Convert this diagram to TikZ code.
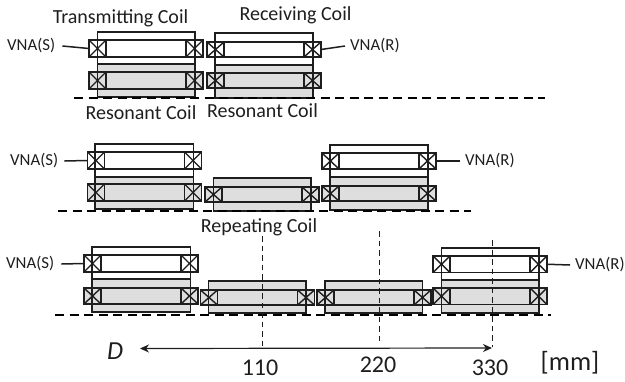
\documentclass[tikz,border=0pt]{standalone}
\usepackage{fontspec}
\setmainfont{Carlito}
\usetikzlibrary{arrows.meta}
\definecolor{ink}{HTML}{1E1E1E}
\definecolor{coilgray}{HTML}{DEDEDE}
\tikzset{
  outerbox/.style={draw=ink,line width=1.3pt},
  coilbody/.style={draw=ink,line width=1.5pt},
  crossbox/.style={draw=ink,line width=1.5pt,inner sep=0pt,outer sep=0pt,rectangle,
    path picture={\draw[ink,line width=1.4pt] (path picture bounding box.south west)--(path picture bounding box.north east)
      (path picture bounding box.north west)--(path picture bounding box.south east);}},
  lab/.style={inner sep=0pt,font=\fontsize{20}{22}\selectfont,text=ink},
  vna/.style={inner sep=0pt,font=\fontsize{16.8}{18}\selectfont,text=ink},
  num/.style={inner sep=0pt,font=\fontsize{24}{26}\selectfont,text=ink},
  lead/.style={draw=ink,line width=1.5pt},
  base/.style={draw=black,line width=1.6pt,dash pattern=on 9pt off 5.5pt},
  guide/.style={draw=ink,line width=1pt,dash pattern=on 5.5pt off 4pt},
}
% name, x left, x right, y top, y bottom, fill
\newcommand{\coilpair}[6]{%
  \draw[coilbody,fill=#6] (#2,#4) rectangle (#3,#5);
  \node[crossbox,fill=#6,minimum width=17pt,minimum height={(#5-#4)*1pt}] (#1l) at ({#2+8.5},{(#4+#5)/2}) {};
  \node[crossbox,fill=#6,minimum width=17pt,minimum height={(#5-#4)*1pt}] (#1r) at ({#3-8.5},{(#4+#5)/2}) {};
}
% x left, x right, y top, y bottom
\newcommand{\grayfill}[4]{\fill[coilgray] (#1,#3) rectangle (#2,#4);}
\newcommand{\plainbox}[4]{\draw[outerbox] (#1,#3) rectangle (#2,#4);}
\begin{document}
\begin{tikzpicture}[x=1pt,y=-1pt]
\useasboundingbox (0,0) rectangle (625,381);
% ---- row 1
\grayfill{97.5}{195}{64}{97}
\grayfill{215}{313}{65}{98}
\coilpair{a}{89}{203}{40}{57}{white}
\coilpair{b}{89}{203}{72}{89}{coilgray}
\coilpair{c}{207}{321}{42}{57}{white}
\coilpair{d}{207}{321}{73}{88}{coilgray}
\plainbox{97.5}{195}{32}{64}
\plainbox{97.5}{195}{64}{97}
\plainbox{215}{313}{33}{65}
\plainbox{215}{313}{65}{98}
\coordinate (b1a) at (74,98); \coordinate (b1b) at (545,98);
\draw[base] (b1a) -- (b1b);
\node[lab] at (120.5,18) {Transmitting Coil};
\node[lab] at (295.5,15.5) {Receiving Coil};
\node[lab] at (141,113) {Resonant Coil};
\node[lab] at (262.5,111) {Resonant Coil};
\node[vna,anchor=west] (s1) at (7,46) {VNA(S)};
\node[vna,anchor=west] (r1) at (350,46) {VNA(R)};
\draw[lead] ([xshift=7pt]s1.east) -- (al.west);
\draw[lead] (cr.east) -- ([xshift=-5pt]r1.west);
% ---- row 2
\grayfill{95}{193.5}{177}{209}
\grayfill{213.5}{311}{178}{211}
\grayfill{330}{428}{177}{210}
\coilpair{e}{87.5}{201.5}{152}{169}{white}
\coilpair{f}{87.5}{201.5}{184}{201}{coilgray}
\coilpair{g}{205}{319}{187}{202}{coilgray}
\coilpair{h}{322}{436}{153}{169}{white}
\coilpair{i}{322}{436}{186}{201}{coilgray}
\plainbox{95}{193.5}{144}{177}
\plainbox{95}{193.5}{177}{209}
\plainbox{213.5}{311}{178}{211}
\plainbox{330}{428}{145}{177}
\plainbox{330}{428}{177}{210}
\coordinate (b2a) at (58,211); \coordinate (b2b) at (471,211);
\draw[base] (b2a) -- (b2b);
\node[lab] at (259,227) {Repeating Coil};
\node[vna,anchor=west] (s2) at (10,161) {VNA(S)};
\node[vna,anchor=west] (r2) at (465,161) {VNA(R)};
\draw[lead] ([xshift=6pt]s2.east) -- (el.west);
\draw[lead] (hr.east) -- ([xshift=-5pt]r2.west);
% ---- row 3
\grayfill{92}{190.5}{279}{312}
\grayfill{208.5}{306}{281}{313}
\grayfill{325}{422.5}{281}{313}
\grayfill{441.5}{539}{280}{313}
\coilpair{j}{84}{198}{255}{272}{white}
\coilpair{k}{84}{198}{288}{304}{coilgray}
\coilpair{m}{200.5}{314.5}{290}{305}{coilgray}
\coilpair{n}{317}{431}{290}{305}{coilgray}
\coilpair{o}{433}{547}{256}{272.5}{white}
\coilpair{p}{433}{547}{288}{304.5}{coilgray}
\plainbox{92}{190.5}{247}{279}
\plainbox{92}{190.5}{279}{312}
\plainbox{208.5}{306}{281}{313}
\plainbox{325}{422.5}{281}{313}
\plainbox{441.5}{539}{248}{280}
\plainbox{441.5}{539}{280}{313}
\coordinate (b3a) at (55,315); \coordinate (b3b) at (551,315);
\draw[base] (b3a) -- (b3b);
\node[vna,anchor=west] (s3) at (6,264) {VNA(S)};
\node[vna,anchor=west] (r3) at (575,265) {VNA(R)};
\draw[lead] ([xshift=7pt]s3.east) -- (jl.west);
\draw[lead] (or.east) -- ([xshift=-5pt]r3.west);
% ---- guides and scale
\coordinate (g1t) at (262,236); \coordinate (g1b) at (262,347);
\coordinate (g2t) at (379,231); \coordinate (g2b) at (379,343);
\coordinate (g3t) at (492,240); \coordinate (g3b) at (492,347);
\draw[guide] (g1t) -- (g1b);
\draw[guide] (g2t) -- (g2b);
\draw[guide] (g3t) -- (g3b);
\coordinate (al0) at (140,348.5); \coordinate (al1) at (492,348);
\draw[ink,line width=1.2pt,{Stealth[length=9pt,width=8pt]}-{Stealth[length=9pt,width=8pt]}] (al0) -- (al1);
\node[inner sep=0pt,font=\fontsize{26}{28}\selectfont\itshape,text=ink] at (115,351) {D};
\node[num] at (260,368) {110};
\node[num] at (378,365) {220};
\node[num] at (490,368) {330};
\node[inner sep=0pt,font=\fontsize{26.5}{28}\selectfont,text=ink] at (570,363) {[mm]};
\end{tikzpicture}
\end{document}
